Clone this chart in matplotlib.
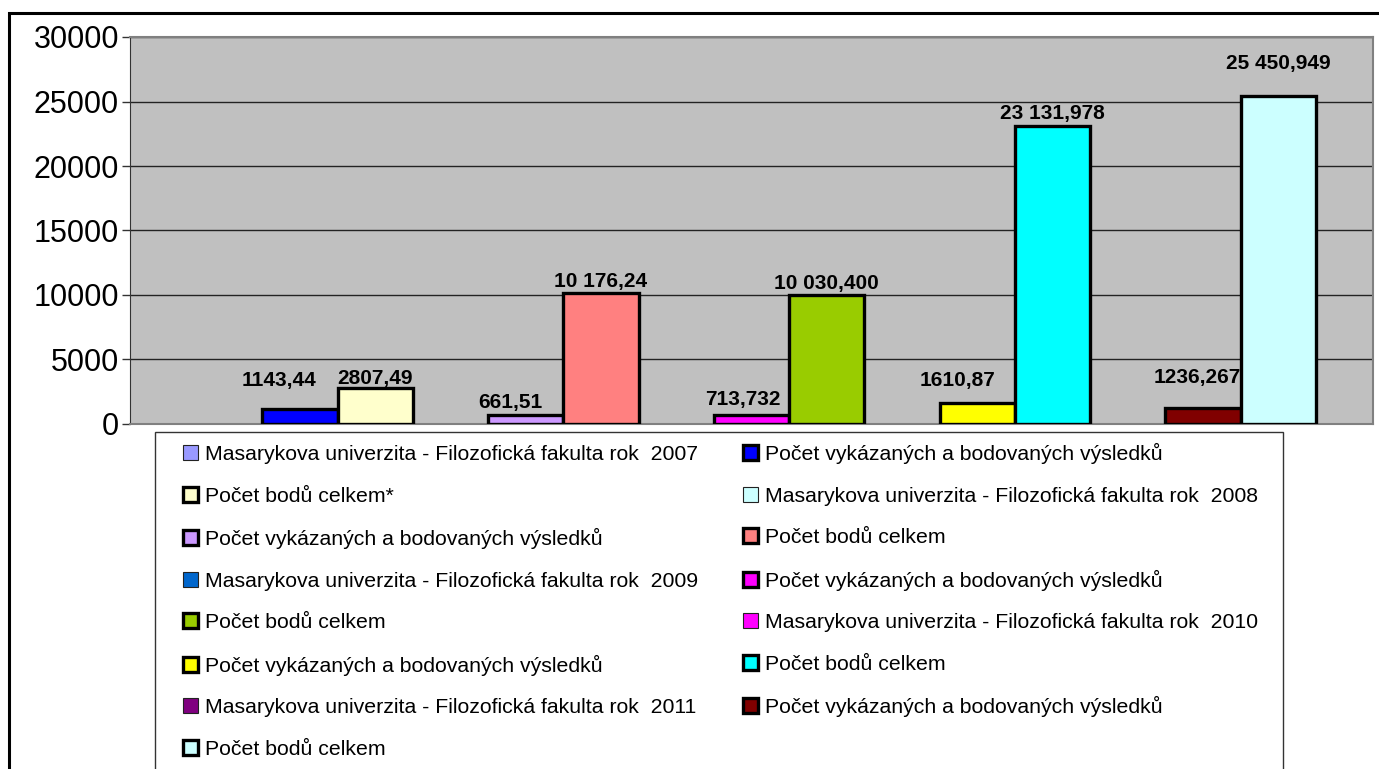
import numpy as np
import matplotlib.pyplot as plt
from matplotlib.patches import Rectangle

plt.rcParams['font.family'] = ['Liberation Sans', 'DejaVu Sans']

# one category, 15 series (header rows per year have no value)
series_names = [
    "Masarykova univerzita - Filozofická fakulta rok  2007",
    "Počet vykázaných a bodovaných výsledků",
    "Počet bodů celkem*",
    "Masarykova univerzita - Filozofická fakulta rok  2008",
    "Počet vykázaných a bodovaných výsledků",
    "Počet bodů celkem",
    "Masarykova univerzita - Filozofická fakulta rok  2009",
    "Počet vykázaných a bodovaných výsledků",
    "Počet bodů celkem",
    "Masarykova univerzita - Filozofická fakulta rok  2010",
    "Počet vykázaných a bodovaných výsledků",
    "Počet bodů celkem",
    "Masarykova univerzita - Filozofická fakulta rok  2011",
    "Počet vykázaných a bodovaných výsledků",
    "Počet bodů celkem",
]
values = [np.nan, 1143.44, 2807.49,
          np.nan, 661.51, 10176.24,
          np.nan, 713.732, 10030.4,
          np.nan, 1610.87, 23131.978,
          np.nan, 1236.267, 25450.949]
value_labels = ["", "1143,44", "2807,49",
                "", "661,51", "10 176,24",
                "", "713,732", "10 030,400",
                "", "1610,87", "23 131,978",
                "", "1236,267", "25 450,949"]
colors = ["#9999FF", "#0000FF", "#FFFFCC",
          "#CCFFFF", "#CC99FF", "#FF8080",
          "#0066CC", "#FF00FF", "#99CC00",
          "#FF00FF", "#FFFF00", "#00FFFF",
          "#800080", "#800000", "#CCFFFF"]
# label offsets in points (dx, dy) above bar top
label_off = [(0, 0), (-15, 14), (0, 0),
             (0, 0), (-11, 2.5), (0, 1.5),
             (0, 0), (-6, 4), (0, 1.5),
             (0, 0), (-14, 9.5), (0, 2),
             (0, 0), (-4, 15.5), (0, 16)]

fig = plt.figure(figsize=(13.79, 7.69), dpi=100)
W, H = 1379, 769

# outer frame (clipped at right/bottom like the reference)
fig.patches.append(Rectangle((9 / W, -0.1), 1.2, 1 - 13 / H + 0.1,
                             transform=fig.transFigure, fill=False,
                             edgecolor='black', linewidth=2.2))

ax = fig.add_axes([130 / W, 1 - 424 / H, (1373 - 130) / W, (424 - 37) / H])
ax.set_facecolor('#C0C0C0')

x = np.arange(len(values))
handles = []
for i in range(len(values)):
    blank = np.isnan(values[i])
    h = ax.bar(x[i], values[i], width=1.0, color=colors[i],
               edgecolor='#222222' if blank else 'black',
               linewidth=0.8 if blank else 2.4, label=series_names[i], zorder=3)
    handles.append(h)
    if not blank:
        ax.annotate(value_labels[i], (x[i], values[i]),
                    xytext=label_off[i], textcoords='offset points',
                    ha='center', va='bottom', fontsize=15,
                    fontweight='bold', zorder=4)

ax.set_xlim(-0.5 - 0.757, len(values) - 0.5 + 0.757)
ax.set_ylim(0, 30000)
ax.set_yticks(np.arange(0, 30001, 5000))
ax.tick_params(axis='y', labelsize=22, length=6, width=1, color='#333333', pad=2)
ax.set_xticks([])
ax.yaxis.grid(True, color='#222222', linewidth=1)
ax.set_axisbelow(True)
for side in ['top', 'right', 'bottom']:
    ax.spines[side].set_color('#808080')
    ax.spines[side].set_linewidth(1.5)
ax.spines['left'].set_color('#333333')

# legend box
fig.patches.append(Rectangle((155 / W, -0.1), (1283 - 155) / W, 1 - 432 / H + 0.1,
                             transform=fig.transFigure, facecolor='white',
                             edgecolor='#333333', linewidth=1))

order = list(range(0, 15, 2)) + list(range(1, 15, 2))
leg = fig.legend([handles[i] for i in order], [series_names[i] for i in order],
                 ncol=2, loc='upper left', bbox_to_anchor=(183 / W, 1 - 443 / H),
                 bbox_transform=fig.transFigure, frameon=False, fontsize=15.3,
                 handlelength=0.7, handleheight=0.7, handletextpad=0.35,
                 labelspacing=1.06, columnspacing=2.1, borderpad=0, borderaxespad=0)

fig.savefig('out.png', dpi=100)
